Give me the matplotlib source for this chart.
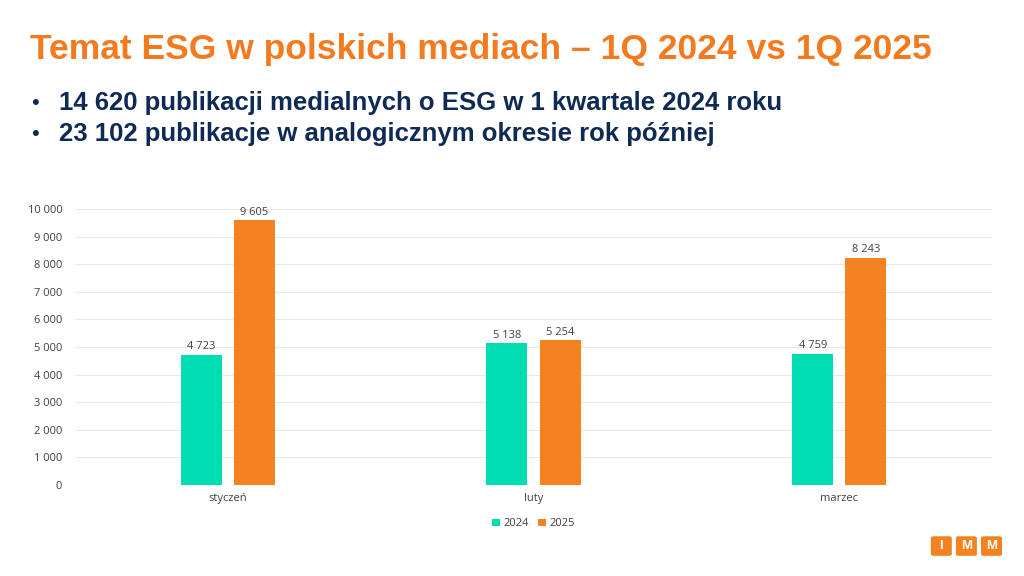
import numpy as np
import matplotlib.pyplot as plt
from matplotlib.patches import FancyBboxPatch

# Data
months = ['styczeń', 'luty', 'marzec']
pub_2024 = [4723, 5138, 4759]
pub_2025 = [9605, 5254, 8243]
yticks = [0, 1000, 2000, 3000, 4000, 5000, 6000, 7000, 8000, 9000, 10000]

teal = '#00DDB3'
orange = '#F58220'
navy = '#0F2A55'
grey = '#404040'


def fmt(v):
    return f'{v:,}'.replace(',', ' ')


fig = plt.figure(figsize=(10.24, 5.76), dpi=100)
fig.patch.set_facecolor('white')

# Title and bullets
fig.text(0.029, 0.914, 'Temat ESG w polskich mediach – 1Q 2024 vs 1Q 2025',
         color='#F47A20', fontsize=25.5, fontweight='bold',
         family='Liberation Sans', va='center', ha='left')
bullets = ['14 620 publikacji medialnych o ESG w 1 kwartale 2024 roku',
           '23 102 publikacje w analogicznym okresie rok później']
for i, b in enumerate(bullets):
    y = 0.821 - i * 0.054
    fig.text(0.030, y, '•', color=navy, fontsize=16, family='Liberation Sans',
             va='center', ha='left')
    fig.text(0.058, y, b, color=navy, fontsize=18.5, fontweight='bold',
             family='Liberation Sans', va='center', ha='left')

# Chart
ax = fig.add_axes([0.073, 0.158, 0.896, 0.479])
x = np.arange(len(months))
w = 0.134
off = 0.087
b1 = ax.bar(x - off, pub_2024, w, color=teal, label='2024', zorder=3)
b2 = ax.bar(x + off, pub_2025, w, color=orange, label='2025', zorder=3)

for bars, vals in ((b1, pub_2024), (b2, pub_2025)):
    for r, v in zip(bars, vals):
        ax.text(r.get_x() + r.get_width() / 2, v + 80, fmt(v), ha='center',
                va='bottom', fontsize=8, color=grey, family='Open Sans')

ax.set_xlim(-0.5, 2.5)
ax.set_ylim(0, 10000)
ax.set_yticks(yticks)
ax.set_yticklabels([fmt(t) for t in yticks], fontsize=8, color=grey,
                   family='Open Sans')
ax.set_xticks(x)
ax.set_xticklabels(months, fontsize=8, color=grey, family='Open Sans')
ax.tick_params(length=0, pad=9)
ax.tick_params(axis='x', pad=6)
ax.yaxis.grid(True, color='#E8E8E8', linewidth=0.8, zorder=0)
ax.set_axisbelow(True)
for s in ax.spines.values():
    s.set_visible(False)

leg = ax.legend(loc='upper center', bbox_to_anchor=(0.5, -0.085), ncol=2,
                frameon=False, handlelength=0.7, handleheight=0.7,
                handletextpad=0.3, columnspacing=0.8,
                prop={'family': 'Open Sans', 'size': 8})
for t in leg.get_texts():
    t.set_color(grey)

# IMM logo
for i, letter in enumerate(['I', 'M', 'M']):
    x0 = 0.909 + i * 0.0245
    box = FancyBboxPatch((x0, 0.035), 0.0205, 0.034,
                         boxstyle='round,pad=0,rounding_size=0.003',
                         transform=fig.transFigure, facecolor=orange,
                         edgecolor='none')
    fig.patches.append(box)
    fig.text(x0 + 0.01025, 0.052, letter, color='white', fontsize=9.5,
             fontweight='bold', family='Liberation Sans', ha='center',
             va='center')

fig.savefig('out.png', dpi=100)
